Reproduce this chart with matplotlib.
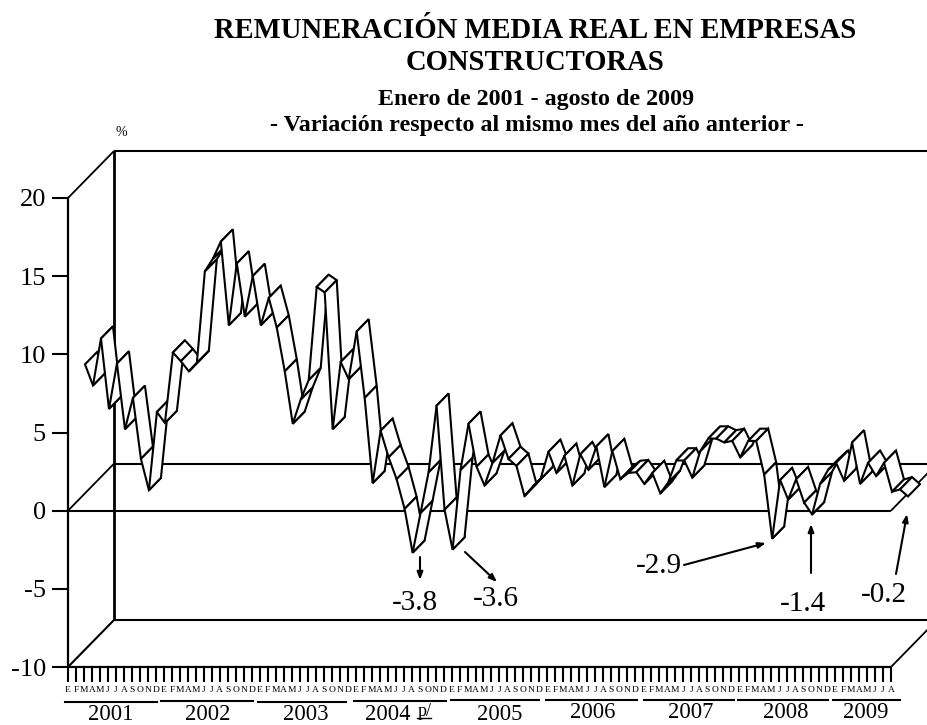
import matplotlib
matplotlib.use("Agg")
import matplotlib.pyplot as plt
from matplotlib.lines import Line2D
from matplotlib.patches import Polygon
from matplotlib.transforms import Affine2D, IdentityTransform

plt.rcParams['font.family'] = ['Liberation Serif', 'DejaVu Serif']
plt.rcParams['axes.unicode_minus'] = False

values = [
    8.25, 6.9, 9.9, 5.4, 8.3, 4.1, 6.1, 2.2, 0.2, 5.2, 4.5, 9.0,
    8.45, 7.8, 8.35, 14.2, 15.0, 16.1, 10.75, 14.7, 11.3, 13.9, 10.75, 12.5,
    10.6, 7.8, 4.45, 6.0, 7.25, 13.2, 12.85, 4.1, 8.4, 7.3, 10.35, 6.1,
    0.65, 4.0, 2.3, 0.9, -1.0, -3.8, -1.25, 1.35, 5.6, -1.05, -3.6, 1.5,
    4.45, 1.7, 0.5, 1.95, 3.7, 2.2, 1.75, -0.17, 0.4, 0.9, 2.65, 1.3,
    2.4, 0.5, 2.5, 1.5, 3.0, 0.4, 2.7, 0.9, 1.3, 1.35, 0.6, 1.3,
    0.0, 0.7, 2.1, 2.1, 1.0, 2.7, 3.5, 3.5, 3.25, 3.35, 2.3, 3.35,
    3.35, 1.2, -2.9, 0.85, -0.4, 0.9, -0.6, -1.35, 0.6, 1.5, 1.95, 0.8,
    3.25, 0.6, 1.95, 1.1, 1.95, 0.1, 0.25, -0.2,
]
month_letters = list("EFMAMJJASOND") * 8 + list("EFMAMJJA")
y_ticks = [-10, -5, 0, 5, 10, 15, 20]
y_labels = ['-10', '-5', '0', '5', '10', '15', '20']
years = ['2001', '2002', '2003', '2004', '2005', '2006', '2007', '2008', '2009']
year_label_pos = [(111, 715), (208, 714), (306, 715), (388, 715), (500, 714),
                  (593, 712), (691, 712), (786, 712), (866, 713)]
year_rule_pos = [(65, 157, 702), (161, 253, 701), (258, 346, 702), (354, 446, 700.7),
                 (451, 539, 700), (546, 637, 700), (644, 734, 700), (738, 828, 700),
                 (833, 900, 700)]
callouts = [
    ('-3.8', (415, 603), (420, 557), (420, 580)),
    ('-3.6', (496, 599), (465, 552), (497, 582)),
    ('-2.9', (659, 566), (684, 565), (766, 543)),
    ('-1.4', (803, 604), (811, 573), (811, 524)),
    ('-0.2', (884, 595), (896, 574), (907, 514)),
]

W, H = 927, 725
fig = plt.figure(figsize=(W / 100, H / 100), dpi=100, facecolor='white')
ax = fig.add_axes([68 / W, (H - 667) / H, (891 - 68) / W, (667 - 198) / H])
ax.patch.set_visible(False)
ax.set_xlim(0, len(values) - 1)
ax.set_ylim(-10, 20)
for s in ('top', 'right'):
    ax.spines[s].set_visible(False)
for s in ('left', 'bottom'):
    ax.spines[s].set_linewidth(1.6)
    ax.spines[s].set_zorder(500)

ax.set_yticks(y_ticks)
ax.set_yticklabels(y_labels, fontsize=19)
ax.tick_params(axis='y', length=11.5, width=1.5, pad=4.5)
ax.set_xticks(range(len(values)))
ax.set_xticklabels(month_letters, fontsize=6.8)
ax.tick_params(axis='x', length=10.8, width=1.5, pad=3)

px = Affine2D().scale(1, -1).translate(0, H)


def disp(x, y, depth):
    """Data point pushed back along the chart's depth axis, in pixels."""
    X, Y = ax.transData.transform((x, y))
    return X + depth, Y + depth * 47 / 46


def seg(a, b, **kw):
    fig.add_artist(Line2D([a[0], b[0]], [a[1], b[1]], transform=IdentityTransform(),
                          color='black', solid_capstyle='butt', **kw))


last = len(values) - 1
BACK = 46
# walls, floor and zero plane
for a, b, lw in [
    (disp(0, -10, BACK), disp(0, 20, BACK), 2.0),
    (disp(0, 20, BACK), disp(last, 20, BACK), 1.5),
    (disp(0, -10, BACK), disp(last, -10, BACK), 1.5),
    (disp(0, 0, BACK), disp(last, 0, BACK), 1.5),
    (disp(0, 0, 0), disp(last, 0, 0), 1.5),
    (disp(0, 20, 0), disp(0, 20, BACK), 1.3),
    (disp(0, 0, 0), disp(0, 0, BACK), 1.3),
    (disp(0, -10, 0), disp(0, -10, BACK), 1.5),
    (disp(last, -10, 0), disp(last, -10, BACK), 1.3),
    (disp(last, 0, 0), disp(last, 0, BACK), 1.3),
]:
    seg(a, b, linewidth=lw, zorder=1)

# ribbon, painted segment by segment from left to right
F, B = 17, 29
for i in range(last):
    poly = [disp(i, values[i], F), disp(i + 1, values[i + 1], F),
            disp(i + 1, values[i + 1], B), disp(i, values[i], B)]
    fig.add_artist(Polygon(poly, closed=True, facecolor='white', edgecolor='black',
                           linewidth=1.5, joinstyle='miter',
                           transform=IdentityTransform(), zorder=10 + i))

# titles
for txt, x, y, fs in [
    ('REMUNERACIÓN MEDIA REAL EN EMPRESAS', 535, 31, 20.6),
    ('CONSTRUCTORAS', 535, 63, 20.6),
    ('Enero de 2001 - agosto de 2009', 536, 99, 17.3),
    ('- Variación respecto al mismo mes del año anterior -', 537, 126, 17.3),
]:
    fig.text(x, y, txt, transform=px, fontsize=fs, fontweight='bold',
             ha='center', va='center')
fig.text(121, 133, '%', transform=px, fontsize=10, ha='center', va='center')

# year labels and their rules
for label, (x, y) in zip(years, year_label_pos):
    fig.text(x, y, label, transform=px, fontsize=16.3, ha='center', va='center')
for x0, x1, y in year_rule_pos:
    fig.add_artist(Line2D([x0, x1], [y, y], transform=px, color='black', linewidth=1.5))
fig.text(425, 711, 'p/', transform=px, fontsize=13, ha='center', va='center')
fig.add_artist(Line2D([417, 431], [717.5, 717.5], transform=px, color='black', linewidth=1.0))

# callouts
for label, (tx, ty), start, end in callouts:
    fig.text(tx, ty, label, transform=px, fontsize=21, ha='center', va='center')
    s = px.transform(start)
    e = px.transform(end)
    ax.annotate('', xy=e, xytext=s, xycoords='figure pixels', textcoords='figure pixels',
                arrowprops=dict(arrowstyle='-|>,head_length=0.45,head_width=0.17',
                                color='black', linewidth=1.5, shrinkA=0, shrinkB=0),
                zorder=300, annotation_clip=False)

fig.savefig('out.png', dpi=100)
